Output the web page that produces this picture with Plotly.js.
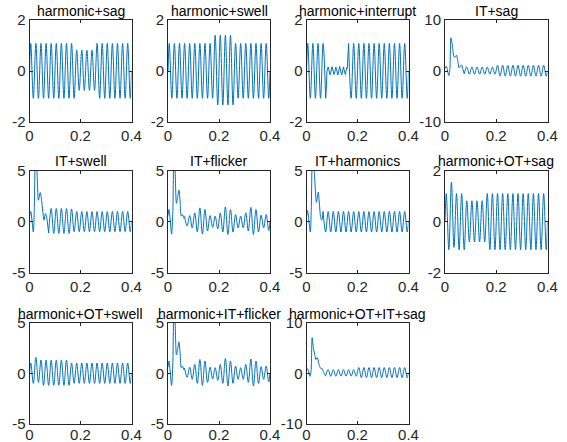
<!DOCTYPE html>
<html><head><meta charset="utf-8">
<script src="https://cdn.plot.ly/plotly-3.0.1.min.js"></script>
<style>html,body{margin:0;padding:0;background:#fff}#chart{width:567px;height:442px}</style>
</head><body><div id="chart"></div>
<script>
const titles = ['harmonic+sag','harmonic+swell','harmonic+interrupt','IT+sag','IT+swell','IT+flicker','IT+harmonics','harmonic+OT+sag','harmonic+OT+swell','harmonic+IT+flicker','harmonic+OT+IT+sag'];
const yLimits = [2,2,2,10,5,5,5,2,5,5,10];
const xTickVals = [0,0.2,0.4];
const xTickText = ['0','0.2','0.4'];

// time of each half-cycle extreme (plus both ends)
const peakTimes = [0,0.005,0.015,0.025,0.035,0.045,0.055,0.065,0.075,0.085,0.095,0.105,0.115,0.125,0.135,0.145,0.155,0.165,0.175,0.185,0.195,0.205,0.215,0.225,0.235,0.245,0.255,0.265,0.275,0.285,0.295,0.305,0.315,0.325,0.335,0.345,0.355,0.365,0.375,0.385,0.395,0.4];

const sig1 = [0,1.08,-1.07,1.08,-1.07,1.08,-1.07,1.08,-1.07,1.08,-1.07,1.08,-1.07,1.08,-1.07,1.08,-1.07,1.08,-1.07,0.82,-0.76,0.82,-0.76,0.82,-0.76,0.82,-0.76,1.08,-1.07,1.08,-1.07,1.08,-1.07,1.08,-1.07,1.08,-1.07,1.08,-1.07,1.08,-1.07,0];
const sig2 = [0,1.08,-1.07,1.08,-1.07,1.08,-1.07,1.08,-1.07,1.08,-1.07,1.08,-1.07,1.08,-1.07,1.08,-1.07,1.08,-1.07,1.40,-1.33,1.40,-1.33,1.40,-1.33,1.40,-1.33,1.08,-1.07,1.08,-1.07,1.08,-1.07,1.08,-1.07,1.08,-1.07,1.08,-1.07,1.08,-1.07,0];
const sig3 = [0,1.08,-1.07,1.08,-1.07,1.08,-1.07,1.08,-1.07,null,null,null,null,null,null,null,null,1.08,-1.07,1.08,-1.07,1.08,-1.07,1.08,-1.07,1.08,-1.07,1.08,-1.07,1.08,-1.07,1.08,-1.07,1.08,-1.07,1.08,-1.07,1.08,-1.07,1.08,-1.07,0];
const sig4 = [null,null,null,null,null,null,null,null,-0.55,0.78,-0.62,0.78,-0.62,0.78,-0.62,0.78,-0.62,0.78,-0.62,0.78,-0.62,1.12,-1.02,1.12,-1.02,1.12,-1.02,1.12,-1.02,1.12,-1.02,1.12,-1.02,1.12,-1.02,1.12,-1.02,1.12,-1.02,1.12,-1.02,0];
const sig5 = [null,null,null,null,null,null,null,null,-1.1,1.3,-1.15,1.3,-1.15,1.3,-1.15,1.3,-1.15,1.25,-0.97,1.0,-0.97,1.0,-0.97,1.0,-0.97,1.0,-0.97,1.0,-0.97,1.0,-0.97,1.0,-0.97,1.0,-0.97,1.0,-0.97,1.0,-0.97,1.0,-0.97,0];
const sig6 = [null,null,null,null,null,null,null,0.5,-0.4,0.6,-0.6,0.87,-1.0,1.35,-1.2,1.2,-0.9,0.6,-0.55,0.55,-0.7,0.87,-1.0,1.45,-1.25,1.2,-1.0,0.7,-0.6,0.55,-0.6,0.87,-0.9,1.4,-1.25,1.2,-1.0,0.65,-0.6,0.7,-0.85,0];
const sig7 = [null,null,null,null,null,null,null,1.0,-1.0,1.0,-1.0,1.0,-1.0,1.0,-1.0,1.0,-1.0,1.0,-1.0,1.0,-1.0,1.0,-1.0,1.0,-1.0,1.0,-1.0,1.0,-1.0,1.0,-1.0,1.0,-1.0,1.0,-1.0,1.0,-1.0,1.0,-1.0,1.0,-1.0,0];
const sig8 = [0,1.1,-1.09,1.54,-1.0,1.1,-1.09,1.1,-1.09,0.82,-0.79,0.82,-0.79,0.82,-0.79,0.82,-0.79,1.1,-1.09,1.1,-1.09,1.1,-1.09,1.1,-1.09,1.1,-1.09,1.1,-1.09,1.1,-1.09,1.1,-1.09,1.1,-1.09,1.1,-1.09,1.1,-1.09,1.1,-1.09,0];
const sig9 = [0,1.0,-1.0,1.57,-0.9,1.3,-1.2,1.3,-1.2,1.3,-1.2,1.3,-1.2,1.3,-1.2,1.3,-1.2,1.0,-1.0,1.0,-1.0,1.0,-1.0,1.0,-1.0,1.0,-1.0,1.0,-1.0,1.0,-1.0,1.0,-1.0,1.0,-1.0,1.0,-1.0,1.0,-1.0,1.0,-1.0,0];
const sig10 = [null,null,null,null,null,null,null,0.5,-0.4,0.6,-0.6,0.87,-1.0,1.35,-1.2,1.2,-0.9,0.6,-0.55,0.55,-0.7,0.87,-1.0,1.45,-1.25,1.2,-1.0,0.7,-0.6,0.55,-0.6,0.87,-0.9,1.4,-1.25,1.2,-1.0,0.65,-0.6,0.7,-0.85,0];
const sig11 = [null,null,null,null,null,null,null,null,-0.5,0.73,-0.6,0.73,-0.6,0.73,-0.6,0.73,-0.6,0.73,-0.6,0.73,-0.6,1.13,-0.87,1.13,-0.87,1.13,-0.87,1.13,-0.87,1.13,-0.87,1.13,-0.87,1.13,-0.87,1.13,-0.87,1.13,-0.87,1.13,-0.87,0];

// detailed segments (interruption / impulsive transients)
const det3T = [0.075,0.0775,0.08,0.0825,0.085,0.0875,0.09,0.0925,0.095,0.0975,0.1,0.1025,0.105,0.1075,0.11,0.1125,0.115,0.1175,0.12,0.1225,0.125,0.1275,0.13,0.1325,0.135,0.1375,0.14,0.1425,0.145,0.1475,0.15,0.1525,0.155,0.1575,0.16,0.1625,0.165];
const det3V = [-1.07,-0.75,-0.02,0.12,0.16,0.05,-0.10,-0.15,-0.06,0.09,0.17,0.08,-0.04,-0.14,-0.09,0.06,0.15,0.10,-0.02,-0.16,-0.10,0.07,0.18,0.09,-0.05,-0.15,-0.08,0.10,0.16,0.04,-0.12,-0.14,-0.01,0.13,0.10,0.75,1.08];
const det4T = [0,0.005,0.015,0.019,0.023,0.027,0.031,0.035,0.04,0.045,0.05,0.055,0.06,0.065,0.07,0.075];
const det4V = [0.5,0.9,-0.9,0.3,6.5,5.6,4.0,2.8,2.7,3.1,2.0,0.6,0.9,1.2,0.3,-0.55];
const det5T = [0,0.005,0.015,0.019,0.023,0.029,0.035,0.042,0.047,0.052,0.057,0.062,0.066,0.075];
const det5V = [0.5,1.0,-1.0,1.5,6.5,5.0,2.1,2.85,2.2,1.0,0.15,0.8,0.6,-1.1];
const det6T = [0,0.004,0.014,0.019,0.023,0.027,0.033,0.038,0.043,0.048,0.052,0.057,0.062,0.065];
const det6V = [0.6,1.2,-1.2,1.0,6.5,5.5,1.8,2.4,3.1,1.8,0.55,0.7,0.35,0.5];
const det7T = [0,0.004,0.015,0.019,0.023,0.03,0.039,0.046,0.051,0.055,0.06,0.065];
const det7V = [0.5,1.1,-1.0,1.5,6.5,5.0,1.9,2.9,1.6,0.5,0.15,1.0];
const det10T = [0,0.004,0.014,0.019,0.023,0.027,0.033,0.038,0.043,0.048,0.052,0.057,0.062,0.065];
const det10V = [0.6,1.2,-1.2,1.0,6.5,5.5,1.8,2.4,3.1,1.8,0.55,0.7,0.35,0.5];
const det11T = [0,0.004,0.014,0.018,0.022,0.027,0.033,0.037,0.042,0.047,0.052,0.057,0.062,0.067,0.075];
const det11V = [0.6,0.9,-0.6,0.5,7.0,5.0,3.5,2.7,3.1,2.2,1.3,0.9,0.9,0.2,-0.5];

const signals = [sig1,sig2,sig3,sig4,sig5,sig6,sig7,sig8,sig9,sig10,sig11];
const details = [null,null,[det3T,det3V],[det4T,det4V],[det5T,det5V],[det6T,det6V],[det7T,det7V],null,null,[det10T,det10V],[det11T,det11V]];

const W = 567, H = 442;
const colPx = [[29.5,131.5],[168,270],[306.5,408.5],[445,547.5]];
const rowPx = [[20,122],[170.5,273],[322.5,424]];
const lineColor = '#0072BD';
const axColor = '#262626';
const fontFam = 'Liberation Sans, Arial, sans-serif';

const data = [];
const layout = {
  width: W, height: H, margin: {l:0,r:0,t:0,b:0},
  paper_bgcolor: '#fff', plot_bgcolor: '#fff', showlegend: false,
  font: {family: fontFam, color: axColor, size: 14},
  annotations: []
};

signals.forEach((sig, i) => {
  const n = i + 1;
  const xa = n === 1 ? 'x' : 'x' + n;
  const ya = n === 1 ? 'y' : 'y' + n;
  const col = i % 4, row = Math.floor(i / 4);
  const xd = [colPx[col][0] / W, colPx[col][1] / W];
  const yd = [1 - rowPx[row][1] / H, 1 - rowPx[row][0] / H];
  data.push({x: peakTimes, y: sig, type: 'scatter', mode: 'lines', xaxis: xa, yaxis: ya,
    line: {color: lineColor, width: 1, shape: 'spline', smoothing: 1}, connectgaps: false, hoverinfo: 'skip'});
  if (details[i]) {
    data.push({x: details[i][0], y: details[i][1], type: 'scatter', mode: 'lines', xaxis: xa, yaxis: ya,
      line: {color: lineColor, width: 1, shape: i === 2 ? 'linear' : 'spline', smoothing: 0.7}, hoverinfo: 'skip'});
  }
  const common = {showline: true, mirror: 'ticks', linecolor: axColor, linewidth: 1,
    ticks: 'inside', ticklen: 3, tickcolor: axColor, tickwidth: 1,
    showgrid: false, zeroline: false, fixedrange: true,
    tickfont: {family: fontFam, size: 15, color: axColor}};
  layout[n === 1 ? 'xaxis' : 'xaxis' + n] = Object.assign({}, common, {
    domain: xd, range: [0, 0.4], tickvals: xTickVals, ticktext: xTickText,
    anchor: ya, ticklabelstandoff: row === 2 ? -3 : 0});
  const r = yLimits[i];
  layout[n === 1 ? 'yaxis' : 'yaxis' + n] = Object.assign({}, common, {
    domain: yd, range: [-r, r], tickvals: [-r, 0, r], ticktext: [String(-r), '0', String(r)],
    anchor: xa});
  layout.annotations.push({text: titles[i], xref: 'paper', yref: 'paper',
    x: (xd[0] + xd[1]) / 2, y: yd[1], xanchor: 'center', yanchor: 'bottom', yshift: -1,
    showarrow: false, font: {family: fontFam, size: 14, color: '#000'}});
});

Plotly.newPlot('chart', data, layout, {staticPlot: true, displayModeBar: false});
</script>
</body></html>
